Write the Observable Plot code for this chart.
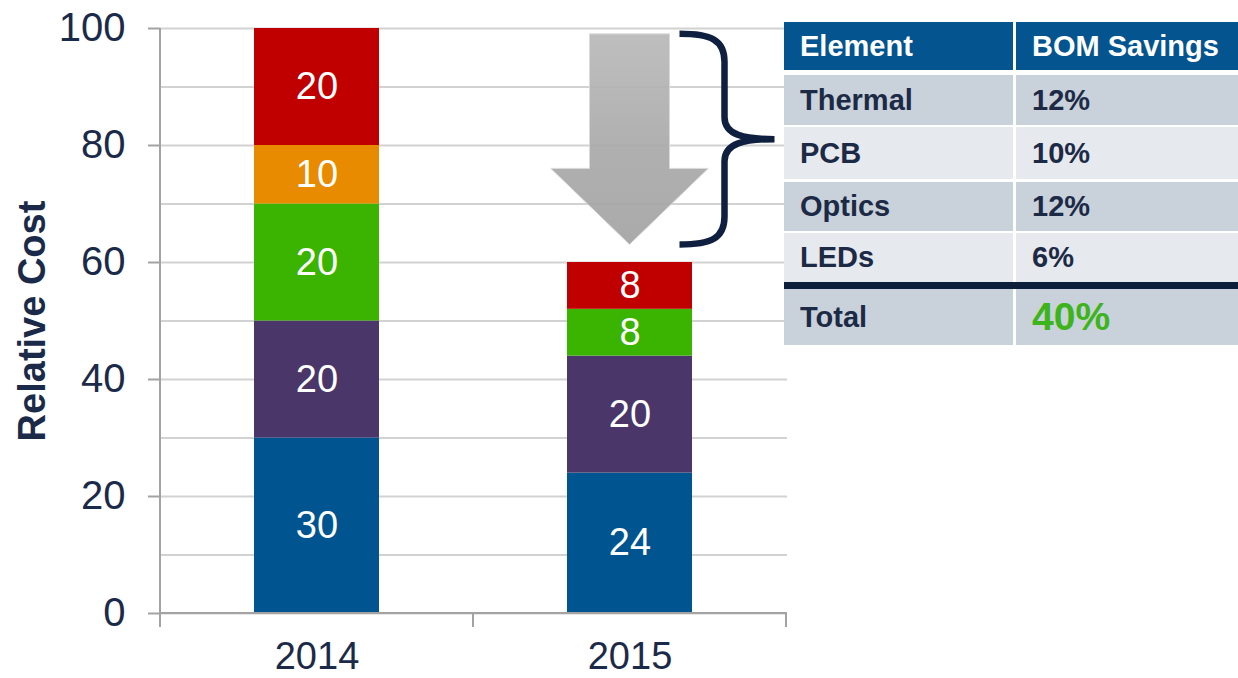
<!DOCTYPE html>
<html>
<head>
<meta charset="utf-8">
<script src="https://cdn.jsdelivr.net/npm/d3@7"></script>
<script src="https://cdn.jsdelivr.net/npm/@observablehq/plot@0.6"></script>
<style>
  html, body { margin: 0; padding: 0; background: #fff; }
  #wrap { position: relative; width: 1238px; height: 678px; overflow: hidden; font-family: "Liberation Sans", Arial, sans-serif; }
  #chart { position: absolute; left: 0; top: 0; }
  #tbl { position: absolute; left: 784px; top: 22px; width: 470px; background: #fff; }
  .row { display: flex; }
  .cell { box-sizing: border-box; display: flex; align-items: center; font-weight: bold; font-size: 29px; color: #1c2a45; }
  .c1 { width: 229px; padding-left: 16px; }
  .c2 { flex: 1; margin-left: 3px; padding-left: 16px; }
  .hdr .cell { background: #03548f; color: #fff; }
  .dark .cell { background: #c9d1db; }
  .light .cell { background: #e6e9ee; }
  .total40 { color: #3db41c; font-size: 39px; }
</style>
</head>
<body>
<div id="wrap">
  <div id="chart"></div>
  <div id="tbl"></div>
</div>
<script>
// ---- data ----
const years = ["2014", "2015"];
const parts = ["LEDs", "Other", "Optics", "PCB", "Thermal"]; // bottom to top
const values2014 = [30, 20, 20, 10, 20];
const values2015 = [24, 20, 8, 0, 8];
const partColors = ["#00548f", "#4a3668", "#3ab400", "#e88b00", "#c00000"];
const yTicks = [0, 20, 40, 60, 80, 100];
const gridTicks = [0, 10, 20, 30, 40, 50, 60, 70, 80, 90, 100];
const yLabel = "Relative Cost";

const tableHeader = ["Element", "BOM Savings"];
const tableElements = ["Thermal", "PCB", "Optics", "LEDs"];
const tableSavings = ["12%", "10%", "12%", "6%"];
const totalLabel = "Total";
const totalValue = "40%";

// ---- build rows ----
const seriesByYear = [values2014, values2015];
const rows = years.flatMap((yr, i) =>
  parts.map((p, j) => ({ year: yr, part: p, value: seriesByYear[i][j] }))
).filter(d => d.value > 0);

const navy = "#1c2a4a";
const axisGray = "#a3a3a3";

function bandStep(x) { return typeof x.step === "function" ? x.step() : x.bandwidth() / 0.4; }
function bandWidth(x) { return typeof x.bandwidth === "function" ? x.bandwidth() : x.bandwidth; }

// axis lines + category separators
function axisLines(index, scales, values, dims) {
  const x = scales.x;
  const g = d3.create("svg:g");
  const left = dims.marginLeft, right = dims.width - dims.marginRight;
  const top = dims.marginTop, bottom = dims.height - dims.marginBottom;
  const bw = bandWidth(x), step = bandStep(x);
  g.append("line").attr("x1", left).attr("x2", left).attr("y1", top).attr("y2", bottom)
    .attr("stroke", axisGray).attr("stroke-width", 2);
  g.append("line").attr("x1", left).attr("x2", right).attr("y1", bottom).attr("y2", bottom)
    .attr("stroke", axisGray).attr("stroke-width", 2);
  const bounds = [x(years[0]) + bw / 2 - step / 2, ...years.map(yr => x(yr) + bw / 2 + step / 2)];
  for (const b of bounds) {
    g.append("line").attr("x1", b).attr("x2", b).attr("y1", bottom).attr("y2", bottom + 14)
      .attr("stroke", axisGray).attr("stroke-width", 2);
  }
  return g.node();
}

// down arrow + brace annotation over the 2015 bar
function annotation(index, scales, values, dims) {
  const x = scales.x, y = scales.y;
  const bw = bandWidth(x);
  const x0 = x(years[1]);
  const cx = x0 + bw / 2;
  const total2014 = d3.sum(values2014), total2015 = d3.sum(values2015);
  const yt = y(total2014 - 1), yb = y(total2015 + 3), yh = y(76);
  const sw = 0.32 * bw, hw = 0.63 * bw;
  const g = d3.create("svg:g");
  const defs = g.append("defs");
  const lg = defs.append("linearGradient").attr("id", "arrowGrad").attr("x1", 0).attr("y1", 0).attr("x2", 0).attr("y2", 1);
  lg.append("stop").attr("offset", "0%").attr("stop-color", "#bababa");
  lg.append("stop").attr("offset", "60%").attr("stop-color", "#a9a9a9");
  lg.append("stop").attr("offset", "100%").attr("stop-color", "#a4a4a4");
  const p = d3.path();
  p.moveTo(cx - sw, yt); p.lineTo(cx + sw, yt); p.lineTo(cx + sw, yh);
  p.lineTo(cx + hw, yh); p.lineTo(cx, yb); p.lineTo(cx - hw, yh);
  p.lineTo(cx - sw, yh); p.closePath();
  g.append("path").attr("d", p.toString()).attr("fill", "url(#arrowGrad)")
    .attr("stroke", "#d8d8d8").attr("stroke-width", 1).attr("opacity", 0.93);
  // brace
  const xl = x0 + 0.9 * bw, xm = x0 + 1.26 * bw, xt = x0 + 1.66 * bw;
  const ym = y(81);
  const b = d3.path();
  b.moveTo(xl, yt);
  b.bezierCurveTo(xl + 0.7 * (xm - xl), yt, xm, yt + 6, xm, yt + 28);
  b.lineTo(xm, ym - 22);
  b.bezierCurveTo(xm, ym - 4, xm + 0.4 * (xt - xm), ym, xt, ym);
  b.bezierCurveTo(xm + 0.4 * (xt - xm), ym, xm, ym + 4, xm, ym + 22);
  b.lineTo(xm, yb - 28);
  b.bezierCurveTo(xm, yb - 6, xl + 0.7 * (xm - xl), yb, xl, yb);
  g.append("path").attr("d", b.toString()).attr("fill", "none")
    .attr("stroke", "#0f1f3f").attr("stroke-width", 6.5);
  return g.node();
}

const plot = Plot.plot({
  width: 1238,
  height: 678,
  marginLeft: 160,
  marginRight: 451,
  marginTop: 28,
  marginBottom: 65,
  style: { fontFamily: "'Liberation Sans', Arial, sans-serif", background: "transparent", overflow: "visible" },
  x: { domain: years, paddingInner: 0.6, paddingOuter: 0.3, axis: null },
  y: { domain: [0, 100], axis: null },
  color: { domain: parts, range: partColors },
  marks: [
    Plot.gridY(gridTicks, { stroke: "#d2d2d2", strokeOpacity: 1, strokeWidth: 2 }),
    Plot.barY(rows, { x: "year", y: "value", fill: "part" }),
    Plot.text(rows, Plot.stackY({ x: "year", y: "value", z: "part", text: d => String(d.value), fill: "white", fontSize: 38 })),
    annotation,
    axisLines,
    Plot.axisY(yTicks, { tickSize: 12, tickPadding: 23, fontSize: 40, fill: navy, stroke: axisGray, strokeWidth: 2, label: null }),
    Plot.axisX({ tickSize: 0, tickPadding: 29, fontSize: 38, fill: navy, label: null }),
    Plot.text([yLabel], { frameAnchor: "left", dx: -128, rotate: -90, textAnchor: "middle", lineAnchor: "middle", fontSize: 38, fontWeight: "bold", fill: navy })
  ]
});
document.getElementById("chart").appendChild(plot);

// ---- table ----
const tbl = d3.select("#tbl");
function addRow(cls, a, b, height, marginTop, bClass) {
  const r = tbl.append("div").attr("class", "row " + cls).style("height", height + "px").style("margin-top", marginTop + "px");
  r.append("div").attr("class", "cell c1").text(a);
  r.append("div").attr("class", "cell c2" + (bClass ? " " + bClass : "")).text(b);
  return r;
}
addRow("hdr", tableHeader[0], tableHeader[1], 48, 0);
const heights = [50, 52, 49, 49];
const gaps = [5, 2, 3, 2];
tableElements.forEach((el, i) => addRow(i % 2 === 0 ? "dark" : "light", el, tableSavings[i], heights[i], gaps[i]));
tbl.append("div").style("height", "7px").style("background", "#0e1f3c");
addRow("dark", totalLabel, totalValue, 56, 0, "total40");
</script>
</body>
</html>
